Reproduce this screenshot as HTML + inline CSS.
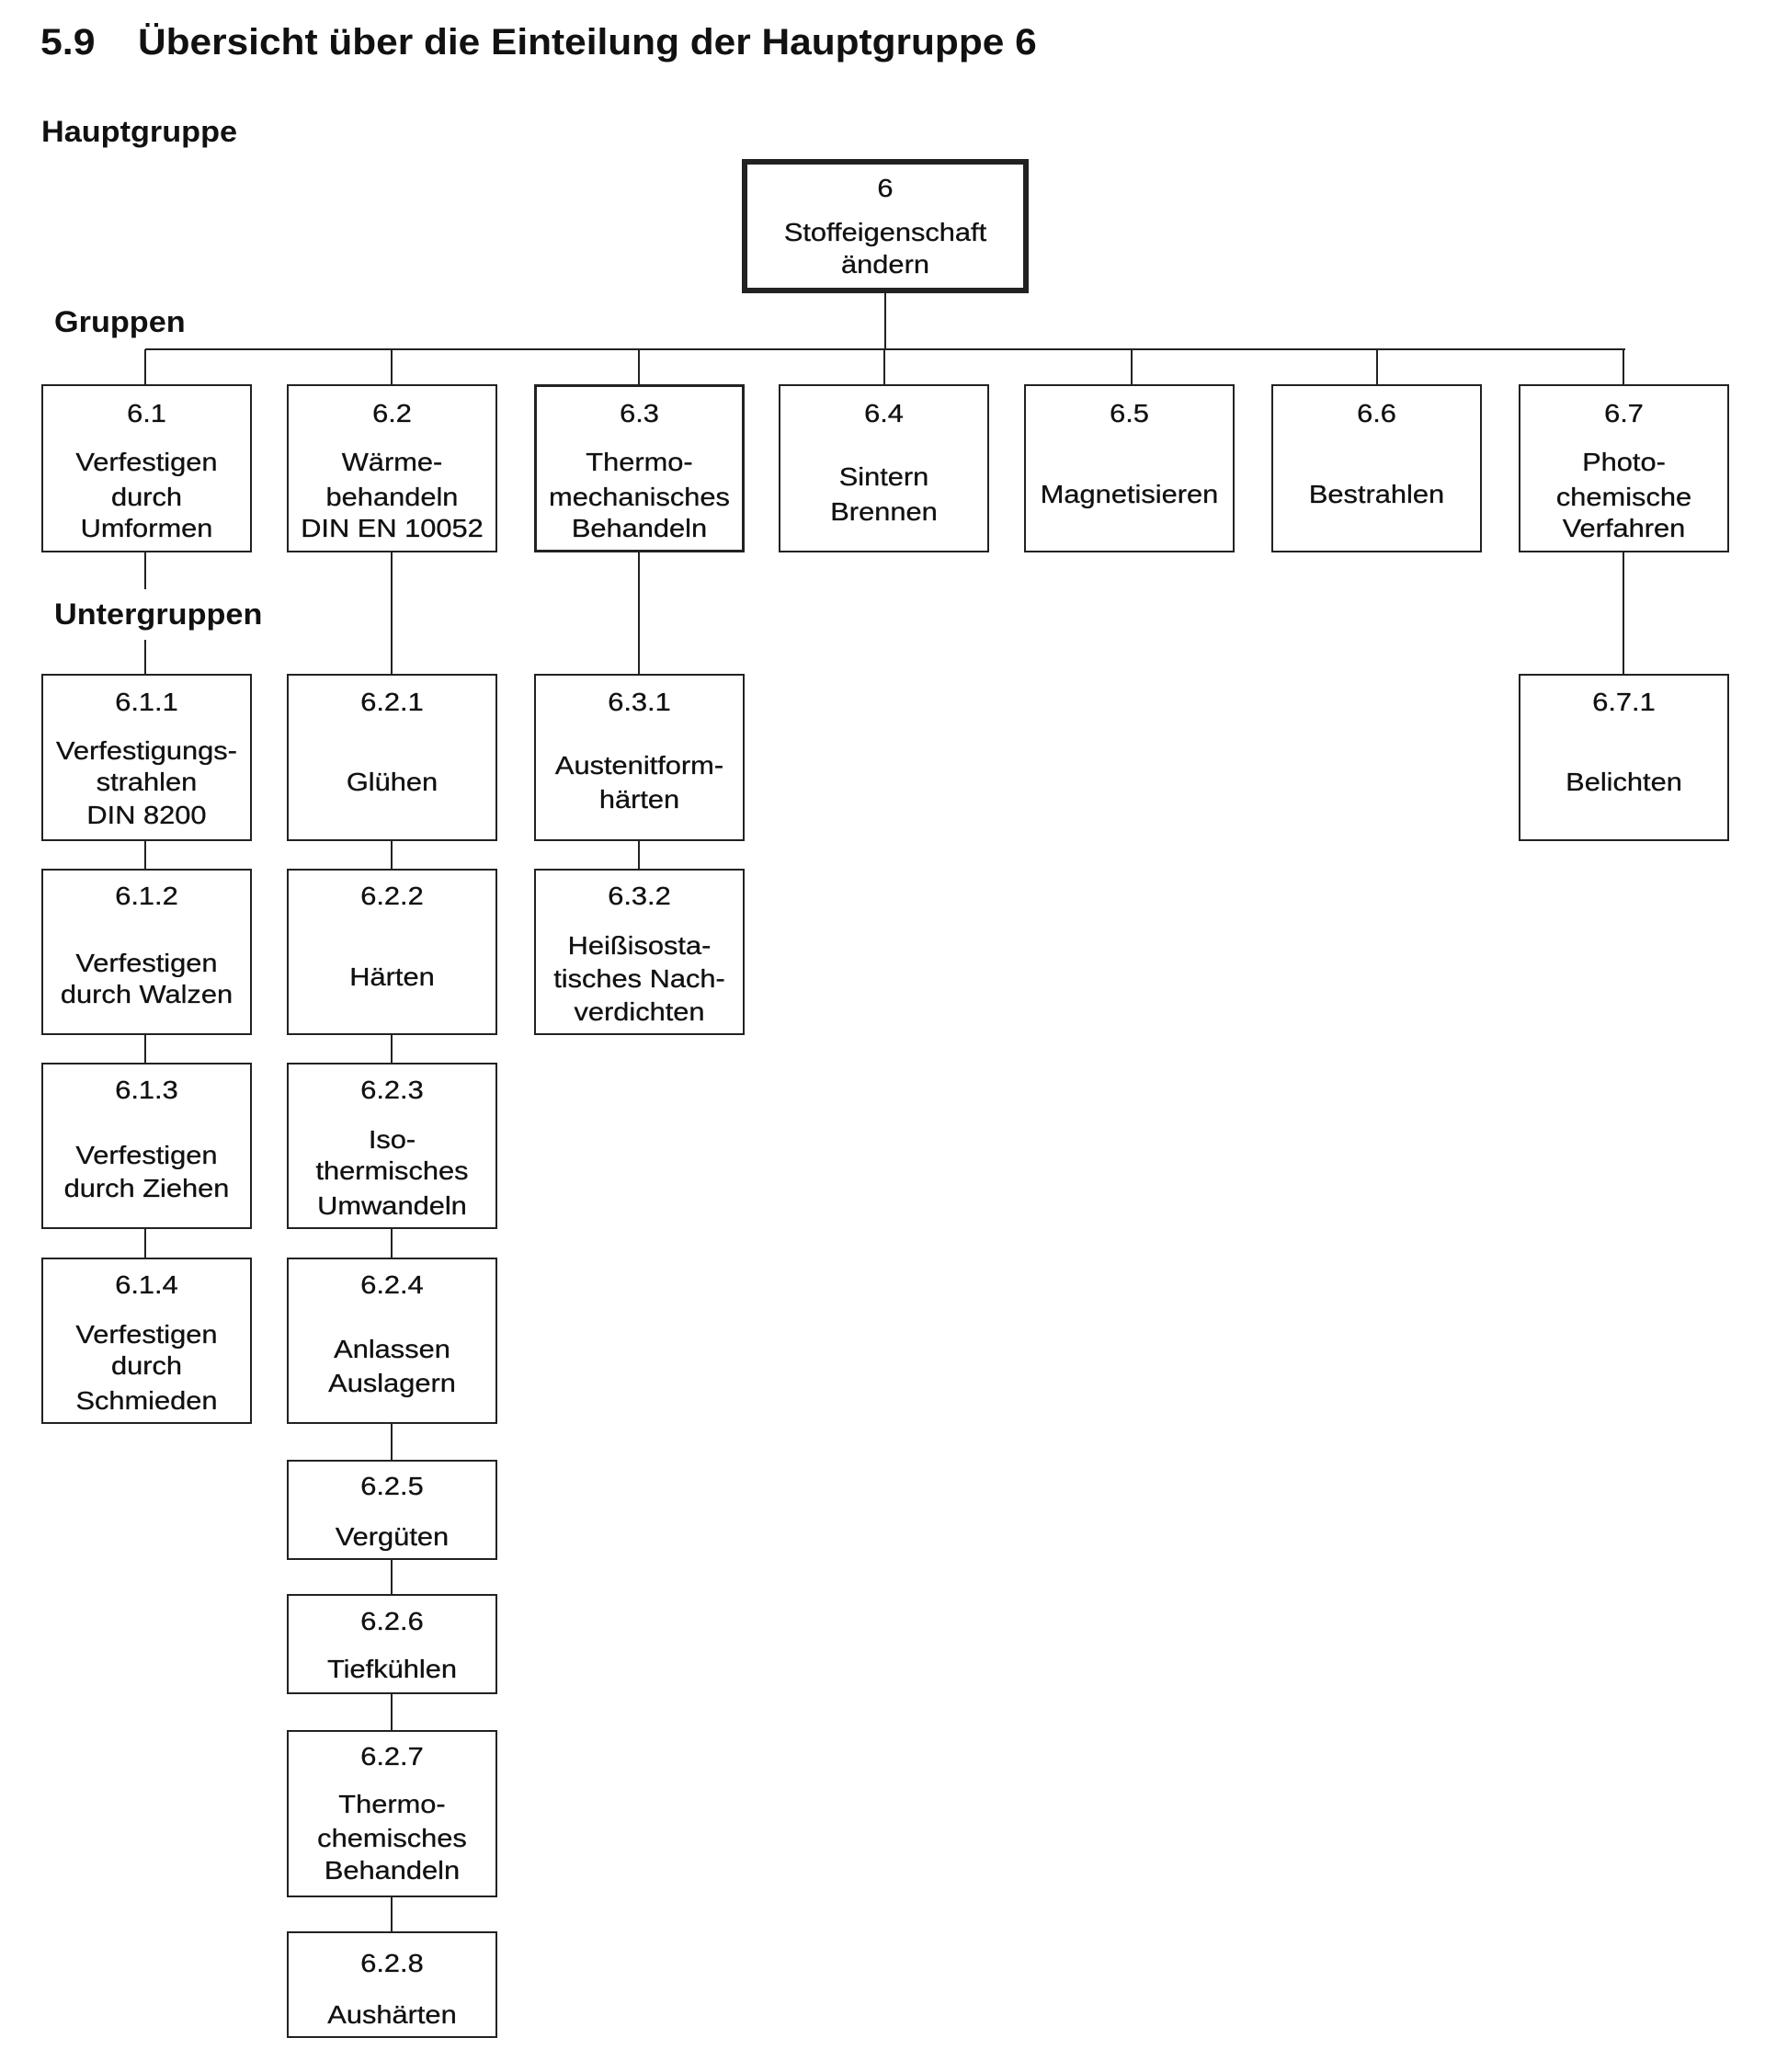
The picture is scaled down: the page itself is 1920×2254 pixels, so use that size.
<!DOCTYPE html>
<html><head><meta charset="utf-8"><style>
body{margin:0;background:#fff;}
#c{position:relative;width:1920px;height:2254px;font-family:"Liberation Sans",Arial,sans-serif;color:#111;overflow:hidden}
.b{position:absolute;border:2px solid #222;box-sizing:border-box;background:#fff}
.t{position:absolute;left:0;right:0;text-align:center;height:36px;line-height:36px;font-size:28px;white-space:nowrap;transform:scaleX(1.1);-webkit-text-stroke:0.3px #111}
.v{position:absolute;width:2px;background:#222}
.h{position:absolute;height:2px;background:#222}
.lab{position:absolute;font-weight:bold;font-size:32px;white-space:nowrap;transform-origin:0 0;transform:scaleX(1.07)}
</style></head><body><div id="c">
<div class="lab" style="left:44px;top:24px;font-size:40px">5.9</div>
<div class="lab" style="left:150px;top:24px;font-size:40px;transform:scaleX(1.06)">Übersicht über die Einteilung der Hauptgruppe 6</div>
<div class="lab" style="left:45px;top:125px">Hauptgruppe</div>
<div class="lab" style="left:59px;top:332px">Gruppen</div>
<div class="lab" style="left:59px;top:650px">Untergruppen</div>

<!-- connectors -->
<div class="v" style="left:962px;top:319px;height:62px"></div>
<div class="h" style="left:158px;top:379px;width:1610px"></div>
<div class="v" style="left:157px;top:380px;height:38px"></div>
<div class="v" style="left:425px;top:380px;height:38px"></div>
<div class="v" style="left:694px;top:380px;height:38px"></div>
<div class="v" style="left:961px;top:380px;height:38px"></div>
<div class="v" style="left:1230px;top:380px;height:38px"></div>
<div class="v" style="left:1497px;top:380px;height:38px"></div>
<div class="v" style="left:1765px;top:380px;height:38px"></div>
<div class="v" style="left:157px;top:601px;height:40px"></div>
<div class="v" style="left:157px;top:696px;height:37px"></div>
<div class="v" style="left:425px;top:601px;height:132px"></div>
<div class="v" style="left:694px;top:601px;height:132px"></div>
<div class="v" style="left:1765px;top:601px;height:132px"></div>
<div class="v" style="left:157px;top:915px;height:453px"></div>
<div class="v" style="left:425px;top:915px;height:1186px"></div>
<div class="v" style="left:694px;top:915px;height:30px"></div>

<!-- main -->
<div class="b" style="left:807px;top:173px;width:312px;height:146px;border-width:6px">
<div class="t" style="top:8px">6</div><div class="t" style="top:56px">Stoffeigenschaft</div><div class="t" style="top:91px">ändern</div></div>

<!-- groups -->
<div class="b" style="left:45px;top:418px;width:229px;height:183px"><div class="t" style="top:12px">6.1</div><div class="t" style="top:65px">Verfestigen</div><div class="t" style="top:103px">durch</div><div class="t" style="top:137px">Umformen</div></div>
<div class="b" style="left:312px;top:418px;width:229px;height:183px"><div class="t" style="top:12px">6.2</div><div class="t" style="top:65px">Wärme-</div><div class="t" style="top:103px">behandeln</div><div class="t" style="top:137px">DIN EN 10052</div></div>
<div class="b" style="left:581px;top:418px;width:229px;height:183px;border-width:3px"><div class="t" style="top:11px">6.3</div><div class="t" style="top:64px">Thermo-</div><div class="t" style="top:102px">mechanisches</div><div class="t" style="top:136px">Behandeln</div></div>
<div class="b" style="left:847px;top:418px;width:229px;height:183px"><div class="t" style="top:12px">6.4</div><div class="t" style="top:81px">Sintern</div><div class="t" style="top:119px">Brennen</div></div>
<div class="b" style="left:1114px;top:418px;width:229px;height:183px"><div class="t" style="top:12px">6.5</div><div class="t" style="top:100px">Magnetisieren</div></div>
<div class="b" style="left:1383px;top:418px;width:229px;height:183px"><div class="t" style="top:12px">6.6</div><div class="t" style="top:100px">Bestrahlen</div></div>
<div class="b" style="left:1652px;top:418px;width:229px;height:183px"><div class="t" style="top:12px">6.7</div><div class="t" style="top:65px">Photo-</div><div class="t" style="top:103px">chemische</div><div class="t" style="top:137px">Verfahren</div></div>

<!-- 6.1.x -->
<div class="b" style="left:45px;top:733px;width:229px;height:182px"><div class="t" style="top:11px">6.1.1</div><div class="t" style="top:64px">Verfestigungs-</div><div class="t" style="top:98px">strahlen</div><div class="t" style="top:134px">DIN 8200</div></div>
<div class="b" style="left:45px;top:945px;width:229px;height:181px"><div class="t" style="top:10px">6.1.2</div><div class="t" style="top:83px">Verfestigen</div><div class="t" style="top:117px">durch Walzen</div></div>
<div class="b" style="left:45px;top:1156px;width:229px;height:181px"><div class="t" style="top:10px">6.1.3</div><div class="t" style="top:81px">Verfestigen</div><div class="t" style="top:117px">durch Ziehen</div></div>
<div class="b" style="left:45px;top:1368px;width:229px;height:181px"><div class="t" style="top:10px">6.1.4</div><div class="t" style="top:64px">Verfestigen</div><div class="t" style="top:98px">durch</div><div class="t" style="top:136px">Schmieden</div></div>

<!-- 6.2.x -->
<div class="b" style="left:312px;top:733px;width:229px;height:182px"><div class="t" style="top:11px">6.2.1</div><div class="t" style="top:98px">Glühen</div></div>
<div class="b" style="left:312px;top:945px;width:229px;height:181px"><div class="t" style="top:10px">6.2.2</div><div class="t" style="top:98px">Härten</div></div>
<div class="b" style="left:312px;top:1156px;width:229px;height:181px"><div class="t" style="top:10px">6.2.3</div><div class="t" style="top:64px">Iso-</div><div class="t" style="top:98px">thermisches</div><div class="t" style="top:136px">Umwandeln</div></div>
<div class="b" style="left:312px;top:1368px;width:229px;height:181px"><div class="t" style="top:10px">6.2.4</div><div class="t" style="top:80px">Anlassen</div><div class="t" style="top:117px">Auslagern</div></div>
<div class="b" style="left:312px;top:1588px;width:229px;height:109px"><div class="t" style="top:9px">6.2.5</div><div class="t" style="top:64px">Vergüten</div></div>
<div class="b" style="left:312px;top:1734px;width:229px;height:109px"><div class="t" style="top:10px">6.2.6</div><div class="t" style="top:62px">Tiefkühlen</div></div>
<div class="b" style="left:312px;top:1882px;width:229px;height:182px"><div class="t" style="top:9px">6.2.7</div><div class="t" style="top:61px">Thermo-</div><div class="t" style="top:98px">chemisches</div><div class="t" style="top:133px">Behandeln</div></div>
<div class="b" style="left:312px;top:2101px;width:229px;height:116px"><div class="t" style="top:15px">6.2.8</div><div class="t" style="top:71px">Aushärten</div></div>

<!-- 6.3.x -->
<div class="b" style="left:581px;top:733px;width:229px;height:182px"><div class="t" style="top:11px">6.3.1</div><div class="t" style="top:80px">Austenitform-</div><div class="t" style="top:117px">härten</div></div>
<div class="b" style="left:581px;top:945px;width:229px;height:181px"><div class="t" style="top:10px">6.3.2</div><div class="t" style="top:64px">Heißisosta-</div><div class="t" style="top:100px">tisches Nach-</div><div class="t" style="top:136px">verdichten</div></div>

<!-- 6.7.1 -->
<div class="b" style="left:1652px;top:733px;width:229px;height:182px"><div class="t" style="top:11px">6.7.1</div><div class="t" style="top:98px">Belichten</div></div>
</div></body></html>
